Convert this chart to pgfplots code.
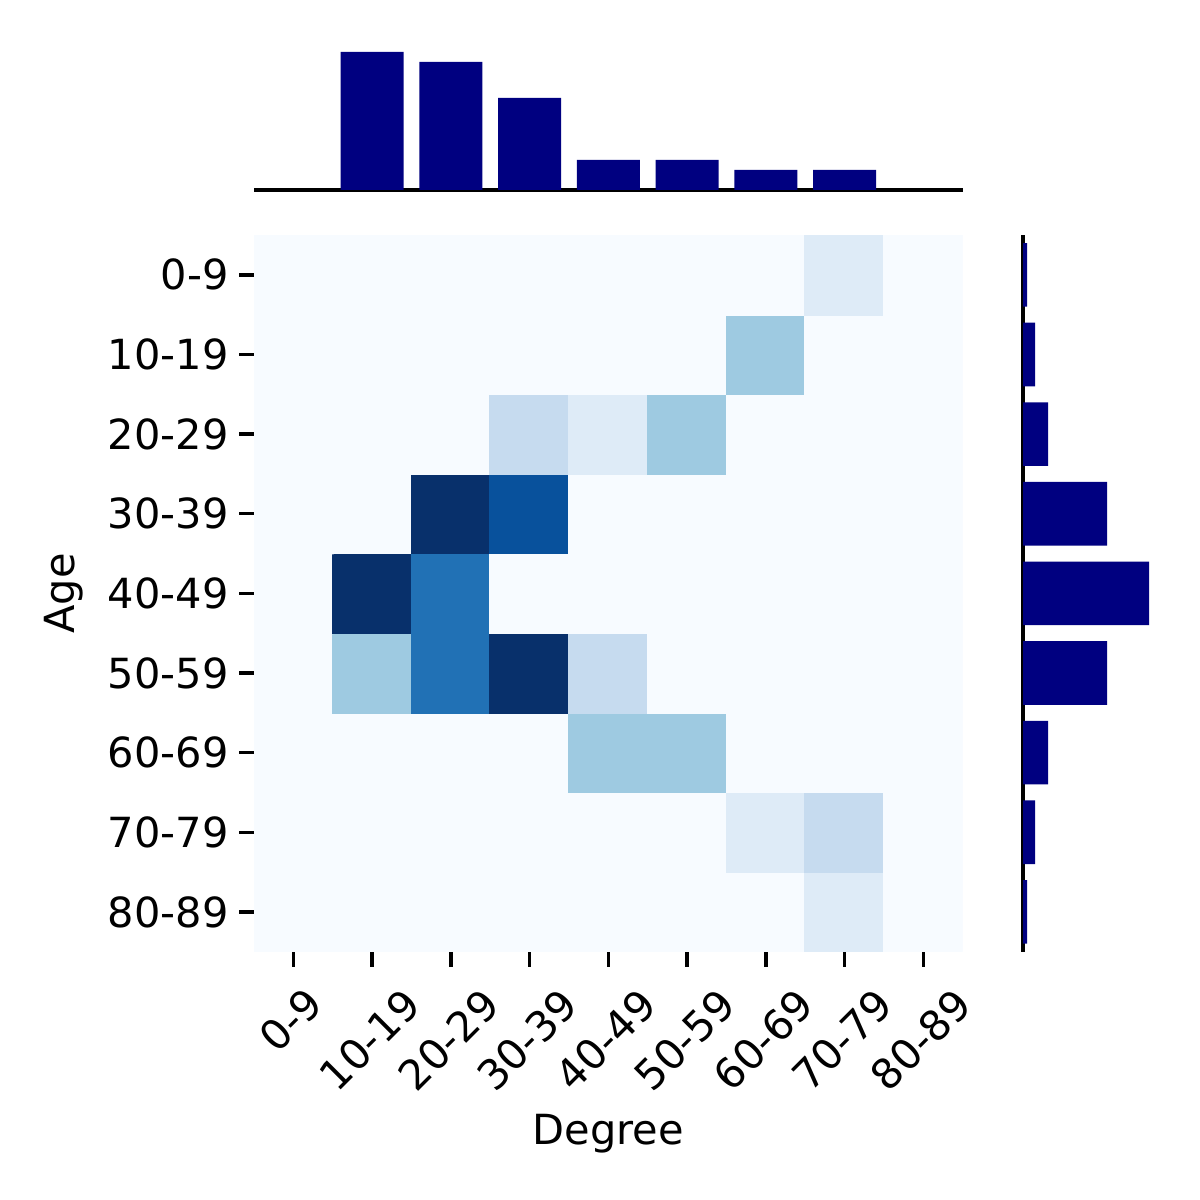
\documentclass[border=0pt]{standalone}
\usepackage{fontspec}
\setmainfont{DejaVu Sans}
\usepackage{pgfplots}
\pgfplotsset{compat=1.18}
\definecolor{navybar}{HTML}{000080}
\begin{document}
\begin{tikzpicture}
\useasboundingbox (0,0) rectangle (288bp,288bp);
% heatmap
\begin{axis}[
  at={(60.96bp,59.59bp)}, anchor=south west, scale only axis,
  width=170.09bp, height=172bp,
  xmin=-0.5, xmax=8.5, ymin=-0.5, ymax=8.5, enlargelimits=false,
  axis line style={draw=none},
  tick align=outside, major tick length=3.6bp,
  tick style={black, line width=0.8pt},
  xtick={0,...,8}, ytick={0,...,8},
  xtick pos=left, ytick pos=left,
  xticklabels={0-9,10-19,20-29,30-39,40-49,50-59,60-69,70-79,80-89},
  yticklabels={80-89,70-79,60-69,50-59,40-49,30-39,20-29,10-19,0-9},
  xticklabel style={anchor=center, inner sep=0pt, xshift=-0.6bp,
     yshift={-ifthenelse(\ticknum==0,12.8,17.6)*1bp}, rotate=45},
  yticklabel style={xshift=1bp},
  colormap={blues}{rgb255(0)=(247,251,255) rgb255(1)=(222,235,247)
    rgb255(2)=(198,219,239) rgb255(3)=(158,202,225) rgb255(4)=(107,174,214)
    rgb255(5)=(66,146,198) rgb255(6)=(33,113,181) rgb255(7)=(8,81,156)
    rgb255(8)=(8,48,107)},
  point meta min=0, point meta max=8,
  xlabel={Degree}, ylabel={Age},
  x label style={at={(axis description cs:0.5,-0.2697)}, anchor=base},
  y label style={at={(axis description cs:-0.2526,0.5)}, anchor=base},
]
\addplot[matrix plot*, mesh/cols=9, point meta=explicit] table[meta=c] {
x y c
0 0 0
1 0 0
2 0 0
3 0 0
4 0 0
5 0 0
6 0 0
7 0 1
8 0 0
0 1 0
1 1 0
2 1 0
3 1 0
4 1 0
5 1 0
6 1 1
7 1 2
8 1 0
0 2 0
1 2 0
2 2 0
3 2 0
4 2 3
5 2 3
6 2 0
7 2 0
8 2 0
0 3 0
1 3 3
2 3 6
3 3 8
4 3 2
5 3 0
6 3 0
7 3 0
8 3 0
0 4 0
1 4 8
2 4 6
3 4 0
4 4 0
5 4 0
6 4 0
7 4 0
8 4 0
0 5 0
1 5 0
2 5 8
3 5 7
4 5 0
5 5 0
6 5 0
7 5 0
8 5 0
0 6 0
1 6 0
2 6 0
3 6 2
4 6 1
5 6 3
6 6 0
7 6 0
8 6 0
0 7 0
1 7 0
2 7 0
3 7 0
4 7 0
5 7 0
6 7 3
7 7 0
8 7 0
0 8 0
1 8 0
2 8 0
3 8 0
4 8 0
5 8 0
6 8 0
7 8 1
8 8 0
};
\end{axis}
% top marginal histogram
\begin{axis}[
  at={(60.96bp,242.4bp)}, anchor=south west, scale only axis,
  width=170.09bp, height=34.32bp,
  xmin=-0.5, xmax=8.5, ymin=0, ymax=143,
  axis x line*=bottom, axis y line=none,
  xtick=\empty, ytick=\empty,
  axis line style={black, line width=0.8pt},
]
\addplot[ybar, bar width=0.8, fill=navybar, draw=none] coordinates {
(1,138) (2,128) (3,92) (4,30) (5,30) (6,20) (7,20)};
\end{axis}
% right marginal histogram
\begin{axis}[
  at={(245.52bp,59.59bp)}, anchor=south west, scale only axis,
  width=34.32bp, height=172bp,
  xmin=0, xmax=143, ymin=-0.5, ymax=8.5,
  axis y line*=left, axis x line=none,
  xtick=\empty, ytick=\empty,
  axis line style={black, line width=0.8pt},
]
\addplot[xbar, bar width=0.8, fill=navybar, draw=none] coordinates {
(4,8) (12,7) (25,6) (84,5) (126,4) (84,3) (25,2) (12,1) (4,0)};
\end{axis}
\end{tikzpicture}
\end{document}
